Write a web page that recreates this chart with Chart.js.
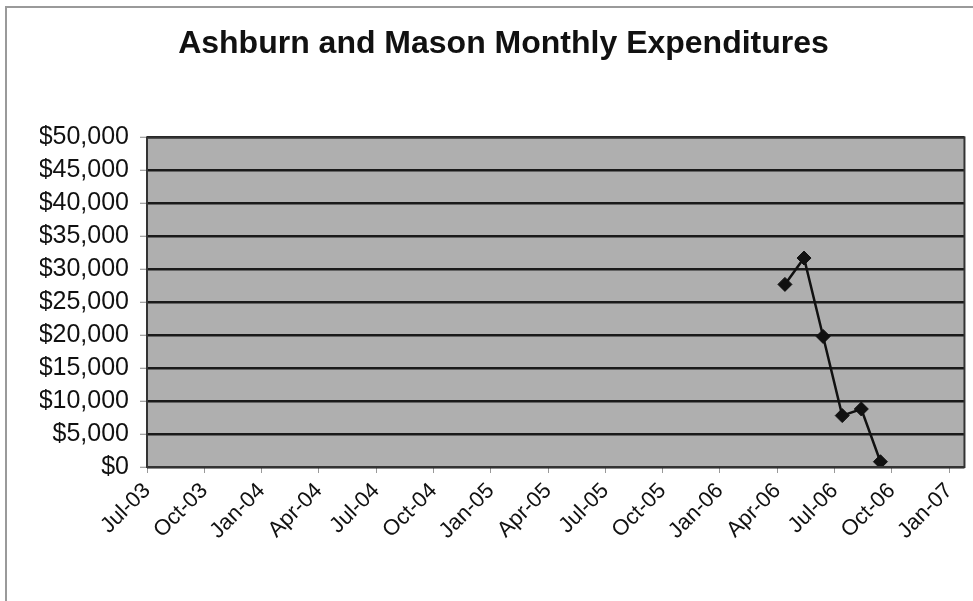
<!DOCTYPE html>
<html>
<head>
<meta charset="utf-8">
<script src="https://cdn.jsdelivr.net/npm/chart.js@4.4.1/dist/chart.umd.min.js"></script>
<style>
  html, body { margin: 0; padding: 0; background: #fff; }
  canvas { display: block; }
</style>
</head>
<body>
<canvas id="chart" width="973" height="601"></canvas>
<script>
// data
const firstMonth = [2003, 7];
const tickLabels = ['Jul-03', 'Oct-03', 'Jan-04', 'Apr-04', 'Jul-04', 'Oct-04', 'Jan-05',
  'Apr-05', 'Jul-05', 'Oct-05', 'Jan-06', 'Apr-06', 'Jul-06', 'Oct-06', 'Jan-07'];
const dates = ['2006-04-13', '2006-05-13', '2006-06-13', '2006-07-13', '2006-08-13', '2006-09-13'];
const expenses = [27700, 31700, 19800, 7800, 8800, 800];
const yTicks = [0, 5000, 10000, 15000, 20000, 25000, 30000, 35000, 40000, 45000, 50000];

// months since Jul-03 (day as a fraction of the month)
function monthIndex(s) {
  const [y, m, d] = s.split('-').map(Number);
  return (y - firstMonth[0]) * 12 + (m - firstMonth[1]) + (d - 1) / 30;
}

const points = dates.map((d, i) => ({ x: monthIndex(d), y: expenses[i] }));

const frame = {
  id: 'frame',
  beforeDraw(chart) {
    const ctx = chart.ctx;
    const a = chart.chartArea;
    ctx.save();
    ctx.fillStyle = '#ffffff';
    ctx.fillRect(0, 0, chart.width, chart.height);
    ctx.strokeStyle = '#9a9a9a';
    ctx.lineWidth = 2;
    ctx.beginPath();
    ctx.moveTo(6, chart.height);
    ctx.lineTo(6, 7);
    ctx.lineTo(chart.width, 7);
    ctx.stroke();
    ctx.fillStyle = '#afafaf';
    ctx.fillRect(a.left, a.top, a.right - a.left, a.bottom - a.top);
    ctx.restore();
  },
  afterDraw(chart) {
    const ctx = chart.ctx;
    const a = chart.chartArea;
    ctx.save();
    ctx.strokeStyle = '#333';
    ctx.lineWidth = 2;
    ctx.strokeRect(a.left, a.top, a.right - a.left, a.bottom - a.top);
    ctx.restore();
  }
};

new Chart(document.getElementById('chart'), {
  type: 'line',
  data: {
    datasets: [{
      data: points,
      borderColor: '#111',
      backgroundColor: '#111',
      borderWidth: 2.5,
      pointStyle: 'rectRot',
      pointRadius: 7,
      pointBorderWidth: 1,
      tension: 0
    }]
  },
  plugins: [frame],
  options: {
    responsive: false,
    animation: false,
    layout: { padding: { left: 40, right: 6, top: 8, bottom: 0 } },
    plugins: {
      legend: { display: false },
      tooltip: { enabled: false },
      title: {
        display: true,
        text: 'Ashburn and Mason Monthly Expenditures',
        color: '#111',
        font: { family: 'Liberation Sans, Arial, sans-serif', size: 32, weight: 'bold' },
        padding: { top: 17, bottom: 74 }
      }
    },
    scales: {
      x: {
        type: 'linear',
        min: 0,
        max: 42.8,
        afterBuildTicks(scale) {
          scale.ticks = tickLabels.map((l, i) => ({ value: i * 3 }));
        },
        afterFit(scale) { scale.height = 134; },
        grid: { display: true, drawOnChartArea: false, tickLength: 6, color: '#999', lineWidth: 1 },
        border: { display: false },
        ticks: {
          color: '#111',
          autoSkip: false,
          maxRotation: 45,
          minRotation: 45,
          padding: 5,
          font: { family: 'Liberation Sans, Arial, sans-serif', size: 22 },
          callback: (v) => tickLabels[Math.round(v / 3)]
        }
      },
      y: {
        min: 0,
        max: 50000,
        afterBuildTicks(scale) {
          scale.ticks = yTicks.map(v => ({ value: v }));
        },
        afterFit(scale) { scale.width = 107; },
        grid: { color: '#1a1a1a', lineWidth: 2.5, tickLength: 7, tickColor: '#888', tickWidth: 1 },
        border: { display: false },
        ticks: {
          color: '#111',
          autoSkip: false,
          padding: 11,
          font: { family: 'Liberation Sans, Arial, sans-serif', size: 25 },
          callback: (v) => '$' + v.toLocaleString('en-US')
        }
      }
    }
  }
});
</script>
</body>
</html>
